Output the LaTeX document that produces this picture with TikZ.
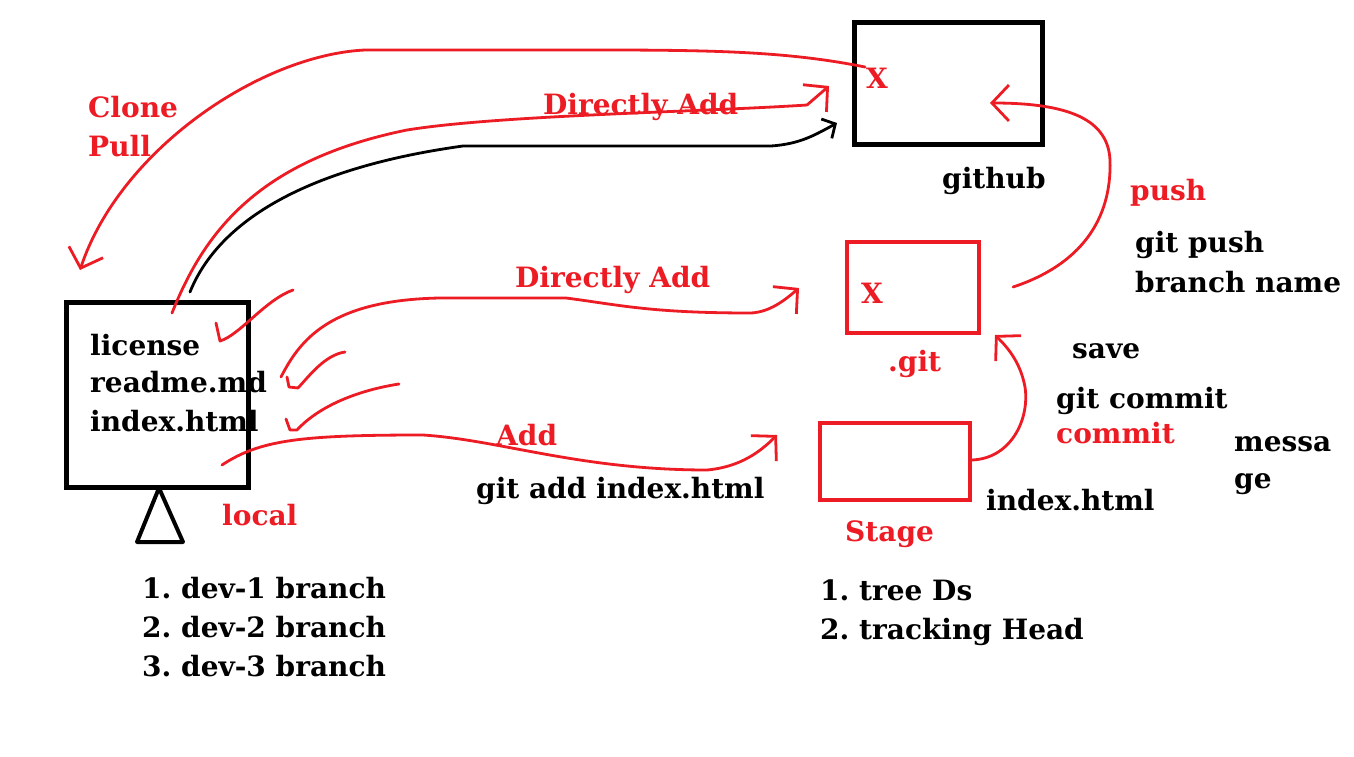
\documentclass[tikz,border=0pt]{standalone}
\usepackage{fontspec}
\setmainfont{DejaVu Serif}
\usetikzlibrary{arrows.meta}
\definecolor{paintred}{RGB}{237,28,36}
\frenchspacing

\begin{document}
\begin{tikzpicture}[x=1pt, y=-1pt,
    txt/.style={anchor=base west, inner sep=0pt, font=\fontsize{28}{32}\selectfont\bfseries},
    redtxt/.style={txt, text=paintred},
    blackbox/.style={draw=black, line width=5pt, anchor=north west},
    redbox/.style={draw=paintred, line width=4pt, anchor=north west},
    pen/.style={draw=paintred, line width=2.8pt, line cap=round, line join=round},
    tip/.style={-{Straight Barb[length=17pt, width=36pt]}},
    smalltip/.style={-{Straight Barb[length=10pt, width=22pt]}}]
            \fill[white] (0,0) rectangle (1354,757);
            \useasboundingbox (0,0) rectangle (1354,757);

            \node[blackbox, minimum width=182pt, minimum height=185pt] (local) at (64,300) {};
            \node[blackbox, minimum width=188pt, minimum height=122pt] (github) at (852,20) {};
            \node[redbox, minimum width=132pt, minimum height=91pt] (gitdir) at (845,240) {};
            \node[redbox, minimum width=150pt, minimum height=77pt] (stage) at (818,421) {};
            \coordinate (stand) at (159,488);
            \draw[line width=4pt, line join=round] (stand) -- (137,542) -- (183,542) -- cycle;

            \node[txt] (license) at (90,355) {license};
            \node[txt] (readme) at (90,392) {readme.md};
            \node[txt] (index) at (90,431) {index.html};
            \node[redtxt] (localname) at (222,525) {local};
            \node[txt] (dev1) at (142,598) {1. dev-1 branch};
            \node[txt] (dev2) at (142,637) {2. dev-2 branch};
            \node[txt] (dev3) at (142,676) {3. dev-3 branch};

            \node[redtxt] (clone) at (88,118) {Clone};
            \node[redtxt] (pull) at (88,157) {Pull};
            \node[redtxt] (directtop) at (543,114) {Directly Add};
            \node[redtxt] (directmid) at (515,287) {Directly Add};
            \node[redtxt] (add) at (496,445) {Add};
            \node[txt] (gitadd) at (476,498) {git add index.html};

            \node[redtxt] (ghx) at (866,89) {X};
            \node[txt] (ghname) at (942,188) {github};
            \node[redtxt] (gitx) at (861,303) {X};
            \node[redtxt] (gitname) at (888,371) {.git};
            \node[redtxt] (stagename) at (845,541) {Stage};
            \node[txt] (stagefile) at (986,510) {index.html};
            \node[txt] (tree) at (820,600) {1. tree Ds};
            \node[txt] (head) at (820,639) {2. tracking Head};

            \node[redtxt] (push) at (1130,200) {push};
            \node[txt] (gitpush) at (1135,252) {git push};
            \node[txt] (branch) at (1135,292) {branch name};
            \node[txt] (save) at (1072,358) {save};
            \node[txt] (gitcommit) at (1056,408) {git commit};
            \node[redtxt] (commit) at (1056,443) {commit};
            \node[txt] (messa) at (1234,451) {messa};
            \node[txt] (ge) at (1234,488) {ge};

            \coordinate (clonestart) at (865,67);
            \coordinate (clonetip) at (80,270);
            \coordinate (toptail) at (172,313);
            \coordinate (toptip) at (829,86);
            \coordinate (blacktail) at (190,292);
            \coordinate (blacktip) at (837,123);
            \coordinate (midtail) at (281,377);
            \coordinate (midtip) at (799,288);
            \coordinate (addtail) at (222,465);
            \coordinate (addtip) at (777,435);
            \coordinate (committail) at (970,460);
            \coordinate (committip) at (995,335);
            \coordinate (pushtail) at (1013,287);
            \coordinate (pushtip) at (990,103);

            \draw[pen, tip] (clonestart) .. controls (790,52) and (720,50) .. (600,50) -- (365,50)
                .. controls (260,55) and (120,150) .. (clonetip);
            \draw[pen, tip] (toptail) .. controls (205,230) and (260,160) .. (407,130)
                .. controls (500,115) and (700,112) .. (807,105) -- (toptip);
            \draw[black, line width=2.8pt, line cap=round, smalltip] (blacktail) .. controls (215,230) and (290,170) .. (463,146)
                -- (771,146) .. controls (800,144) and (815,135) .. (blacktip);
            \draw[pen, tip] (midtail) .. controls (300,340) and (330,300) .. (440,298) -- (566,298)
                .. controls (620,305) and (650,313) .. (751,313) .. controls (770,312) and (785,300) .. (midtip);
            \draw[pen, tip] (addtail) .. controls (260,440) and (300,435) .. (423,435)
                .. controls (500,440) and (580,470) .. (707,470) .. controls (740,467) and (760,452) .. (addtip);
            \draw[pen, tip] (committail) .. controls (1010,460) and (1030,420) .. (1025,387)
                .. controls (1020,360) and (1005,345) .. (committip);
            \draw[pen, tip] (pushtail) .. controls (1080,265) and (1112,220) .. (1110,160)
                .. controls (1108,120) and (1070,103) .. (pushtip);

            \draw[pen] (216,323) -- (220,341) .. controls (240,335) and (265,300) .. (293,290);
            \draw[pen] (287,377) -- (289,387) -- (298,388) .. controls (310,375) and (325,355) .. (345,352);
            \draw[pen] (286,419) -- (290,430) -- (297,430) .. controls (320,405) and (360,390) .. (399,384);
        \end{tikzpicture}
\end{document}
